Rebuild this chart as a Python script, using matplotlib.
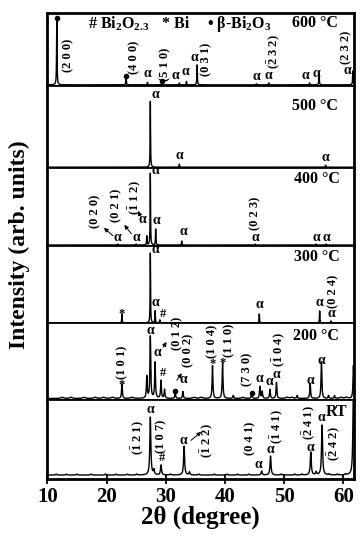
import numpy as np
import matplotlib
matplotlib.use('Agg')
import matplotlib.pyplot as plt

plt.rcParams['font.family'] = ['Liberation Serif', 'DejaVu Serif']
plt.rcParams['font.weight'] = 'bold'
plt.rcParams['mathtext.fontset'] = 'custom'
plt.rcParams['mathtext.rm'] = 'Liberation Serif:bold'
plt.rcParams['mathtext.bf'] = 'Liberation Serif:bold'
plt.rcParams['mathtext.it'] = 'Liberation Serif:bold'

## Data: peak positions (2theta) / heights

temps = ['600 °C', '500 °C', '400 °C', '300 °C', '200 °C', 'RT']

pos_600 = [11.6, 23.3, 26.9, 29.3, 32.3, 33.5, 35.3, 45.3, 47.4, 54.3, 55.9, 61.6]
amp_600 = [66, 8, 2.5, 1.5, 2, 3.5, 20, 1, 2, 2, 12, 14]
pos_500 = [27.4, 32.3, 57.0]
amp_500 = [66, 3, 2]
pos_400 = [21.9, 25.0, 26.8, 27.4, 28.3, 32.7, 45.1, 55.4, 57.1]
amp_400 = [1, 1, 9, 72, 16, 4, 1, 1, 1]
pos_300 = [22.6, 27.4, 28.2, 29.0, 45.8, 56.0, 57.9]
amp_300 = [9, 70, 12, 3, 9, 12, 2]
pos_200 = [22.6, 26.8, 27.4, 28.2, 29.2, 29.8, 31.6, 32.9, 37.9, 39.6, 41.4,
           44.5, 45.9, 46.3, 47.6, 48.7, 52.2, 54.4, 56.3, 57.5, 58.5, 61.7]
amp_200 = [14, 22, 62, 36, 18, 9, 6, 7, 33, 36, 3,
           5, 12, 7, 9, 16, 3, 15, 37, 3, 3, 33]
pos_rt = [27.4, 28.0, 29.2, 33.1, 34.0, 46.2, 47.7, 54.5, 55.4, 56.4, 61.7]
amp_rt = [58, 5, 10, 29, 3, 4, 19, 23, 3, 50, 90]

# small bumps of the noisy baselines (200 °C and RT)
bump_200 = [12.5, 14.0, 16.2, 18.1, 19.5, 21.0, 24.3, 34.8, 36.0, 43.0, 50.5, 51.3, 59.6, 60.5]
bump_rt = [11.5, 13.2, 15.0, 17.4, 19.8, 21.6, 23.5, 25.1, 30.8, 35.6, 38.2, 40.4,
           42.1, 44.0, 49.5, 51.8, 53.0, 57.6, 59.0, 60.4]

widths = [0.09, 0.08, 0.08, 0.08, 0.16, 0.2]

x = np.linspace(10, 62, 9000)


def _pattern(pos, amp, w):
    y = np.zeros_like(x)
    for p, a in zip(pos, amp):
        y += a * (w / 2) ** 2 / ((x - p) ** 2 + (w / 2) ** 2)
    return y


patterns = [
    _pattern(pos_600, amp_600, widths[0]),
    _pattern(pos_500, amp_500, widths[1]),
    _pattern(pos_400, amp_400, widths[2]),
    _pattern(pos_300, amp_300, widths[3]),
    _pattern(pos_200, amp_200, widths[4]) + _pattern(bump_200, [1.2] * len(bump_200), 0.5),
    _pattern(pos_rt, amp_rt, widths[5]) + _pattern(bump_rt, [1.0] * len(bump_rt), 0.2),
]

# panel heights (px) and baseline offsets
heights = [73, 82, 78, 78, 77, 79]
base = [1, 0.5, 0.5, 0.5, 1.7, 4]

fig, axes = plt.subplots(6, 1, figsize=(3.64, 5.5), dpi=100, sharex=True,
                         gridspec_kw=dict(height_ratios=heights, hspace=0))
fig.subplots_adjust(left=0.13, right=0.9725, top=0.9764, bottom=0.129)

for ax, y, h, b in zip(axes, patterns, heights, base):
    ax.plot(x, y, color='k', lw=1.0)
    ax.set_ylim(-b, h - b)
    ax.set_xlim(10, 61.8)
    ax.set_yticks([])
    ax.tick_params(axis='x', which='both', length=0)
    for s in ax.spines.values():
        s.set_linewidth(1.3)
    ax.spines['left'].set_linewidth(2)
    ax.spines['right'].set_linewidth(2)
axes[0].spines['top'].set_linewidth(2)
axes[-1].spines['bottom'].set_linewidth(2)

axes[-1].set_xticks([10, 20, 30, 40, 50, 60])
axes[-1].tick_params(axis='x', direction='inout', length=7, width=1.3, labelsize=15, pad=2)
axes[-1].set_xlabel('2θ (degree)', fontsize=18, fontweight='bold', labelpad=-1)
fig.text(0.052, 0.555, 'Intensity (arb. units)', rotation=90, fontsize=17,
         fontweight='bold', ha='center', va='center')

# temperature labels
temp_xy = [(59.0, 62), (59.0, 61), (59.4, 66), (59.4, 66), (59.2, 63), (60.6, 63)]
for ax, t, (tx, ty) in zip(axes, temps, temp_xy):
    ax.text(tx, ty, t, fontsize=11.5, ha='right', va='center')

A = 'α'
# (axis index, x, y)
alphas = [
    (0, 26.9, 5), (0, 31.6, 3), (0, 33.3, 7), (0, 34.8, 21), (0, 45.3, 1.5),
    (0, 47.4, 3), (0, 53.6, 3), (0, 55.5, 5), (0, 60.6, 8),
    (1, 28.2, 66), (1, 32.3, 5), (1, 57.0, 3),
    (2, 28.2, 68), (2, 21.9, 1.5), (2, 25.0, 1.5), (2, 26.1, 19), (2, 28.5, 18),
    (2, 33.0, 7), (2, 45.1, 1.5), (2, 55.4, 1.5), (2, 57.2, 1.5),
    (3, 28.2, 67), (3, 28.2, 14), (3, 45.8, 12), (3, 56.0, 14), (3, 57.9, 3),
    (4, 27.4, 62), (4, 28.6, 40), (4, 32.9, 13), (4, 45.8, 14), (4, 47.5, 11),
    (4, 48.7, 18), (4, 54.4, 12), (4, 56.3, 32),
    (5, 27.4, 59), (5, 33.0, 28), (5, 45.6, 4), (5, 47.7, 19), (5, 54.4, 21),
    (5, 56.3, 51),
]
for i, ax_x, ax_y in alphas:
    axes[i].text(ax_x, ax_y, A, fontsize=10, ha='center', va='bottom')

b1 = r'$\bar{1}$'
b2 = r'$\bar{2}$'
millers = [
    (0, '(2 0 0)', 13.55, 30), (0, '(4 0 0)', 24.65, 28), (0, '(5 1 0)', 29.9, 21),
    (0, '(0 3 1)', 36.9, 26), (0, '(' + b2 + ' 3 2)', 48.2, 33), (0, '(2 3 2)', 60.5, 38),
    (2, '(0 2 0)', 18.1, 34), (2, '(0 2 1)', 21.6, 40), (2, '(' + b1 + ' 1 2)', 24.8, 48),
    (2, '(0 2 3)', 45.1, 32),
    (3, '(0 2 4)', 58.3, 32),
    (4, '(1 0 1)', 22.6, 36), (4, '(0 1 2)', 31.9, 65), (4, '(0 0 2)', 33.8, 48),
    (4, '(1 0 4)', 37.9, 57), (4, '(1 1 0)', 40.7, 58), (4, '(7 3 0)', 43.7, 29),
    (4, '(' + b1 + ' 0 4)', 49.0, 49),
    (5, '(' + b1 + ' 2 1)', 25.3, 38), (5, '(1 0 7)', 29.3, 39), (5, '(' + b1 + ' 2 2)', 36.9, 35),
    (5, '(0 4 1)', 44.2, 37), (5, '(' + b1 + ' 4 1)', 48.75, 49), (5, '(' + b2 + ' 4 1)', 54.1, 53),
    (5, '(' + b2 + ' 4 2)', 58.3, 32),
]
for i, t, mx, my in millers:
    axes[i].text(mx, my, t, fontsize=9, rotation=90, ha='center', va='center')

# phase markers: '#' Bi2O2.3, '*' Bi, dot beta-Bi2O3
dots = [(0, 11.6, 67), (0, 23.3, 9), (0, 29.3, 4), (4, 31.6, 8), (4, 44.5, 6)]
for i, dx, dy in dots:
    axes[i].plot(dx, dy, 'o', color='k', ms=3)
stars = [(3, 22.6, 9), (4, 22.6, 14), (4, 37.9, 35), (4, 39.6, 36)]
for i, sx, sy in stars:
    axes[i].text(sx, sy, '*', fontsize=9, ha='center', va='center')
hashes = [(3, 29.6, 3), (4, 29.5, 20), (5, 29.3, 11)]
for i, hx, hy in hashes:
    axes[i].text(hx, hy, '#', fontsize=9, ha='center', va='bottom')

# arrows from peaks to their labels
arrows = [
    (2, (21.45, 7.4), (19.2, 19)), (2, (24.5, 9), (22.7, 22.4)), (2, (25.95, 26.4), (25.1, 36.4)),
    (4, (29.3, 49), (30.4, 59)), (4, (31.6, 16), (33.0, 27.6)),
    (5, (33.9, 33), (36.35, 45)),
]
for i, p0, p1 in arrows:
    axes[i].annotate('', xy=p1, xytext=p0,
                     arrowprops=dict(arrowstyle='-|>', lw=0.7, color='k', mutation_scale=6))

# phase legend in the top panel
axes[0].text(16.9, 61, r'# Bi$_{2}$O$_{2.3}$', fontsize=11.5, va='center')
axes[0].text(29.3, 61, '* Bi', fontsize=11.5, va='center')
axes[0].text(36.9, 61, r'• β-Bi$_{2}$O$_{3}$', fontsize=11.5, va='center')

plt.savefig('out.png', dpi=100)
